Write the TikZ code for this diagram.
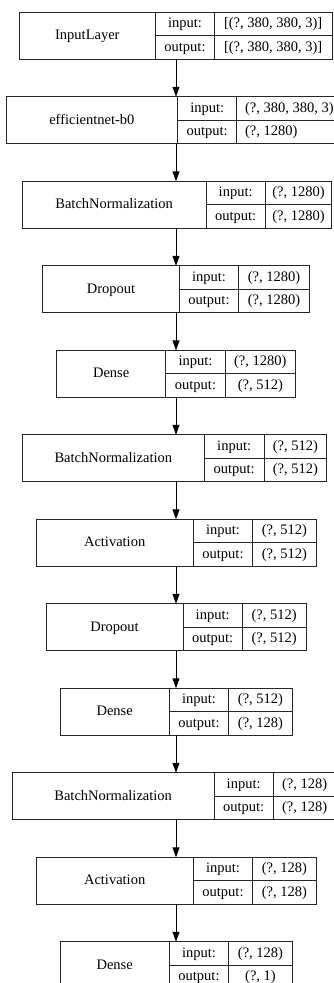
\documentclass[tikz,border=0pt]{standalone}
\usepackage{fontspec}
\setmainfont{Liberation Serif}
\usetikzlibrary{arrows.meta}
\tikzset{
    layer-cell/.style = {draw=black!85, line width=1pt, rectangle, inner sep=0pt, outer sep=0pt, text height=10.5pt, text depth=3pt},
    layer-name/.style = {layer-cell, minimum height=47pt},
    layer-key/.style = {layer-cell, minimum height=23.5pt},
    layer-val/.style = {layer-cell, minimum height=23.5pt},
    flow/.style = {draw=black, line width=1pt, -{Triangle[length=10pt, width=7pt]}},
}
% one keras layer: id, top, left, split 1, split 2, right, name, input shape, output shape
\newcommand{\kerasnode}[9]{%
    \node[layer-name, minimum width={#4pt-#3pt}, anchor=north west] (#1) at (#3pt,-#2pt) {#7};
    \node[layer-key, minimum width={#5pt-#4pt}, anchor=north west] (#1-ik) at (#1.north east) {input:};
    \node[layer-key, minimum width={#5pt-#4pt}, anchor=north west] (#1-ok) at (#1-ik.south west) {output:};
    \node[layer-val, minimum width={#6pt-#5pt}, anchor=north west] (#1-iv) at (#1-ik.north east) {#8};
    \node[layer-val, minimum width={#6pt-#5pt}, anchor=north west] (#1-ov) at (#1-iv.south west) {#9};
}
\begin{document}
\begin{tikzpicture}[font=\fontsize{14.5}{16}\selectfont]
\useasboundingbox (0,0) rectangle (333pt,-983pt);
\coordinate (axis) at (176pt,0);

\kerasnode{inp}{12.3}{19}{155.7}{214.3}{332}{InputLayer}{[(?, 380, 380, 3)]}{[(?, 380, 380, 3)]}
\kerasnode{eff}{96.8}{6}{177.7}{236.7}{346}{efficientnet-b0}{\makebox[92.7pt][l]{(?, 380, 380, 3)}}{\makebox[92.7pt][l]{(?, 1280)}}
\kerasnode{bna}{181.3}{22.3}{206}{265.3}{331.7}{BatchNormalization}{(?, 1280)}{(?, 1280)}
\kerasnode{dra}{265.8}{42.7}{179.3}{238.7}{309.3}{Dropout}{(?, 1280)}{(?, 1280)}
\kerasnode{dea}{350.3}{56.7}{165.7}{225.3}{295.3}{Dense}{(?, 1280)}{(?, 512)}
\kerasnode{bnb}{434.8}{22.3}{204.3}{264}{326.7}{BatchNormalization}{(?, 512)}{(?, 512)}
\kerasnode{aca}{519.3}{36}{193.3}{252.7}{316}{Activation}{(?, 512)}{(?, 512)}
\kerasnode{drb}{603.8}{46}{183}{242.3}{306}{Dropout}{(?, 512)}{(?, 512)}
\kerasnode{deb}{688.3}{60}{169.3}{228.7}{292.3}{Dense}{(?, 512)}{(?, 128)}
\kerasnode{bnc}{772.8}{12.3}{214}{273.3}{336}{BatchNormalization}{(?, 128)}{(?, 128)}
\kerasnode{acb}{857.3}{36}{193.3}{252.7}{316}{Activation}{(?, 128)}{(?, 128)}
\kerasnode{dec}{941.8}{60}{169.3}{228.7}{292.3}{Dense}{(?, 128)}{(?, 1)}

\draw[flow] (inp.south -| axis) -- (eff.north -| axis);
\draw[flow] (eff.south -| axis) -- (bna.north -| axis);
\draw[flow] (bna.south -| axis) -- (dra.north -| axis);
\draw[flow] (dra.south -| axis) -- (dea.north -| axis);
\draw[flow] (dea.south -| axis) -- (bnb.north -| axis);
\draw[flow] (bnb.south -| axis) -- (aca.north -| axis);
\draw[flow] (aca.south -| axis) -- (drb.north -| axis);
\draw[flow] (drb.south -| axis) -- (deb.north -| axis);
\draw[flow] (deb.south -| axis) -- (bnc.north -| axis);
\draw[flow] (bnc.south -| axis) -- (acb.north -| axis);
\draw[flow] (acb.south -| axis) -- (dec.north -| axis);
\end{tikzpicture}
\end{document}
